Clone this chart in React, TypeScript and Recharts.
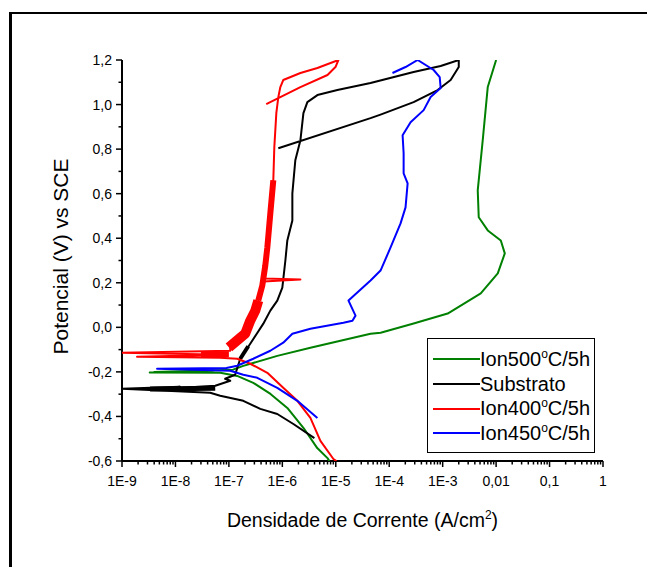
import React from 'react';
import { ScatterChart, Scatter, XAxis, YAxis, Legend } from 'recharts';

// ---- Series data (current density A/cm², potential V vs SCE), in sweep order ----
const ion500I = [7.6e-6, 7.0e-6, 4.5e-6, 2.5e-6, 1.24e-6, 6.0e-7, 2.86e-7, 1.43e-7, 6.9e-8, 3.3e-9, 5.0e-8, 4.0e-9, 1.2e-7, 1.86e-7, 8.05e-7, 3.35e-6, 4.47e-5, 6.9e-5, 2.86e-4, 1.24e-3, 5.16e-3, 1.074e-2, 1.454e-2, 1.224e-2, 6.98e-3, 4.73e-3, 4.53e-3, 5.62e-3, 6.98e-3, 1.0e-2];
const ion500E = [-0.6, -0.587, -0.542, -0.452, -0.362, -0.299, -0.249, -0.218, -0.204, -0.203, -0.198, -0.2, -0.19, -0.173, -0.128, -0.092, -0.029, -0.024, 0.017, 0.062, 0.152, 0.242, 0.332, 0.39, 0.435, 0.494, 0.615, 0.84, 1.079, 1.2];

const substratoI = [3.98e-6, 1.61e-6, 8.05e-7, 3.87e-7, 1.86e-7, 6.88e-8, 4.47e-8, 1e-9, 1.22e-8, 3.35e-9, 5.55e-8, 1.06e-7, 8.5e-8, 1.31e-7, 1.63e-7, 2.51e-7, 4.41e-7, 5.96e-7, 8.05e-7, 1.0e-6, 1.14e-6, 1.24e-6, 1.54e-6, 1.54e-6, 1.75e-6, 2.18e-6, 2.48e-6, 2.94e-6, 4.53e-6, 1.07e-5, 4.47e-5, 2.86e-4, 9.18e-4, 2.0e-3, 2.0e-3, 1.41e-3, 8.05e-4, 2.86e-4, 6.88e-5, 4.47e-5, 8.41e-7];
const substratoE = [-0.497, -0.434, -0.389, -0.366, -0.33, -0.307, -0.294, -0.276, -0.267, -0.2805, -0.2625, -0.24, -0.231, -0.213, -0.141, -0.0735, 0.0165, 0.075, 0.12, 0.1785, 0.3, 0.39, 0.48, 0.6015, 0.75, 0.84, 0.9615, 1.011, 1.0425, 1.065, 1.0965, 1.146, 1.173, 1.2, 1.1685, 1.11, 1.065, 1.011, 0.955, 0.939, 0.804];

const ion400I = [1.03e-5, 9.03e-6, 5.16e-6, 3.35e-6, 1.91e-6, 1.04e-6, 5.24e-7, 2.51e-7, 1.43e-7, 6.88e-8, 1.91e-9, 8.5e-8, 1e-9, 1.06e-7, 1.06e-7, 2.02e-7, 2.51e-7, 3.12e-7, 3.55e-7, 4.22e-7, 4.41e-7, 2.18e-6, 4.6e-7, 4.8e-7, 5.24e-7, 5.96e-7, 6.78e-7, 7.08e-7, 7.72e-7, 8.41e-7, 9.18e-7, 1.04e-6, 2.18e-6, 4.53e-6, 1.12e-5, 9.87e-6, 7.0e-6, 2.18e-6, 5.0e-7];
const ion400E = [-0.6, -0.591, -0.51, -0.4065, -0.33, -0.2715, -0.204, -0.1635, -0.141, -0.1365, -0.132, -0.123, -0.114, -0.105, -0.0825, -0.0285, 0.03, 0.075, 0.12, 0.1875, 0.2055, 0.2145, 0.219, 0.2775, 0.3585, 0.5115, 0.66, 0.8085, 0.9615, 1.0335, 1.0785, 1.11, 1.1415, 1.164, 1.2, 1.1685, 1.1325, 1.0785, 1.002];

const ion450I = [4.53e-6, 1.91e-6, 8.05e-7, 3.4e-7, 1.86e-7, 1.06e-7, 4.53e-9, 9e-8, 1.43e-7, 2.86e-7, 5.96e-7, 1.04e-6, 1.54e-6, 3.35e-6, 1.39e-5, 2.05e-5, 2.34e-5, 1.73e-5, 4.47e-5, 6.88e-5, 1.06e-4, 1.63e-4, 2.02e-4, 2.21e-4, 1.86e-4, 1.86e-4, 1.78e-4, 2.51e-4, 4.41e-4, 5.96e-4, 9.18e-4, 8.8e-4, 6.78e-4, 3.4e-4, 2.02e-4, 1.15e-4];
const ion450E = [-0.4065, -0.33, -0.2715, -0.2265, -0.213, -0.195, -0.186, -0.183, -0.1725, -0.141, -0.105, -0.069, -0.0285, -0.006, 0.021, 0.03, 0.0525, 0.12, 0.21, 0.255, 0.3585, 0.4665, 0.5385, 0.6465, 0.6915, 0.7815, 0.8625, 0.921, 0.975, 1.0335, 1.074, 1.1235, 1.155, 1.2, 1.1685, 1.1415];

// noisy (oscillating) stretches of the records, drawn as wider bands
const ion400BandLowI = [1.0e-7, 2.02e-7, 2.51e-7, 3.12e-7, 3.55e-7];
const ion400BandLowE = [-0.09, -0.0285, 0.03, 0.075, 0.12];
const ion400BandHighI = [3.55e-7, 4.22e-7, 4.8e-7, 5.24e-7, 5.96e-7, 6.78e-7];
const ion400BandHighE = [0.12, 0.1875, 0.2775, 0.3585, 0.5115, 0.66];
const ion400SpikeBandI = [3.0e-8, 1.0e-7];
const ion400SpikeBandE = [-0.121, -0.121];
const substratoBandI = [3.35e-9, 5.55e-8];
const substratoBandE = [-0.277, -0.274];
const substratoBand2I = [1.63e-7, 2.3e-7];
const substratoBand2E = [-0.141, -0.085];

// ---- Axis ticks / labels ----
const xMajorTicks = [1e-9, 1e-8, 1e-7, 1e-6, 1e-5, 1e-4, 1e-3, 1e-2, 1e-1, 1];
const xMajorLabels = ['1E-9', '1E-8', '1E-7', '1E-6', '1E-5', '1E-4', '1E-3', '0,01', '0,1', '1'];
const xMinorMultipliers = [2, 3, 4, 5, 6, 7, 8, 9];
const yMajorTicks = [-0.6, -0.4, -0.2, 0, 0.2, 0.4, 0.6, 0.8, 1.0, 1.2];
const yMajorLabels = ['-0,6', '-0,4', '-0,2', '0,0', '0,2', '0,4', '0,6', '0,8', '1,0', '1,2'];
const yMinorTicks = [-0.5, -0.3, -0.1, 0.1, 0.3, 0.5, 0.7, 0.9, 1.1];

const legendLabels = ['Ion500°C/5h', 'Substrato', 'Ion400°C/5h', 'Ion450°C/5h'];
const legendColors = ['#008000', '#000000', '#ff0000', '#0000ff'];

const xTitle = 'Densidade de Corrente (A/cm';
const yTitle = 'Potencial (V) vs SCE';

const FONT = '"Liberation Sans", Arial, Helvetica, sans-serif';
const TICK_SIZE = 6;
const TICK_MARGIN = 4;

const toPoints = (xs: number[], ys: number[]) => xs.map((i, k) => ({ i, E: ys[k] }));

const xMinorTicks: number[] = [];
xMajorTicks.slice(0, -1).forEach((d) => xMinorMultipliers.forEach((m) => xMinorTicks.push(m * d)));
const xTicks = [...xMajorTicks, ...xMinorTicks].sort((a, b) => a - b);
const yTicks = [...yMajorTicks, ...yMinorTicks].sort((a, b) => a - b);

const XTick = (props: any) => {
  const { x, y, payload } = props;
  const axisY = y - TICK_SIZE - TICK_MARGIN;
  const idx = xMajorTicks.findIndex((v) => Math.abs(Math.log10(v) - Math.log10(payload.value)) < 1e-6);
  const major = idx >= 0;
  return (
    <g>
      <line x1={x} x2={x} y1={axisY} y2={axisY + (major ? 6 : 3.5)} stroke="#000" strokeWidth={1.5} />
      {major && (
        <text x={x} y={axisY + 25} textAnchor="middle" fontSize={14} fontFamily={FONT} fill="#000">
          {xMajorLabels[idx]}
        </text>
      )}
    </g>
  );
};

const YTick = (props: any) => {
  const { x, y, payload } = props;
  const axisX = x + TICK_SIZE + TICK_MARGIN;
  const idx = yMajorTicks.findIndex((v) => Math.abs(v - payload.value) < 1e-6);
  const major = idx >= 0;
  return (
    <g>
      <line x1={axisX} x2={axisX - (major ? 6 : 3.5)} y1={y} y2={y} stroke="#000" strokeWidth={1.5} />
      {major && (
        <text x={axisX - 10} y={y + 5} textAnchor="end" fontSize={14} fontFamily={FONT} fill="#000">
          {yMajorLabels[idx]}
        </text>
      )}
    </g>
  );
};

const XTitle = (props: any) => {
  const vb = props.viewBox || { x: 122, y: 461, width: 481, height: 106 };
  return (
    <text x={vb.x + vb.width / 2} y={vb.y + 66} textAnchor="middle" fontSize={19.5} fontFamily={FONT} fill="#000">
      {xTitle}
      <tspan dy={-8} fontSize={12}>2</tspan>
      <tspan dy={8}>)</tspan>
    </text>
  );
};

const YTitle = (props: any) => {
  const vb = props.viewBox || { x: 0, y: 60, width: 122, height: 401 };
  const cx = 60;
  const cy = vb.y + vb.height / 2 - 4;
  return (
    <text
      x={cx}
      y={cy}
      transform={`rotate(-90, ${cx}, ${cy})`}
      textAnchor="middle"
      dominantBaseline="central"
      fontSize={21}
      fontFamily={FONT}
      fill="#000"
    >
      {yTitle}
    </text>
  );
};

const LegendBox = () => (
  <div
    style={{
      boxSizing: 'border-box',
      width: 168,
      height: 115,
      border: '1px solid #000',
      background: '#fff',
      fontFamily: FONT,
      fontSize: 20,
      paddingTop: 8,
      paddingLeft: 5,
      color: '#000',
    }}
  >
    {legendLabels.map((label, k) => {
      const parts = label.split('°');
      return (
        <div key={label} style={{ display: 'flex', alignItems: 'center', height: 24.7, whiteSpace: 'nowrap' }}>
          <svg width={47} height={4} style={{ display: 'block', flex: 'none' }}>
            <line x1={0} x2={47} y1={2} y2={2} stroke={legendColors[k]} strokeWidth={2} />
          </svg>
          <span>
            {parts[0]}
            {parts.length > 1 && (
              <>
                <sup style={{ fontSize: 12, verticalAlign: 'top', lineHeight: 1, position: 'relative', top: 0 }}>o</sup>
                {parts[1]}
              </>
            )}
          </span>
        </div>
      );
    })}
  </div>
);

const series = [
  { key: 'ion500', data: toPoints(ion500I, ion500E), color: legendColors[0], width: 2 },
  { key: 'substrato', data: toPoints(substratoI, substratoE), color: legendColors[1], width: 2 },
  { key: 'substratoBand', data: toPoints(substratoBandI, substratoBandE), color: legendColors[1], width: 5 },
  { key: 'substratoBand2', data: toPoints(substratoBand2I, substratoBand2E), color: legendColors[1], width: 4 },
  { key: 'ion400', data: toPoints(ion400I, ion400E), color: legendColors[2], width: 2 },
  { key: 'ion400BandLow', data: toPoints(ion400BandLowI, ion400BandLowE), color: legendColors[2], width: 10 },
  { key: 'ion400BandHigh', data: toPoints(ion400BandHighI, ion400BandHighE), color: legendColors[2], width: 6 },
  { key: 'ion400SpikeBand', data: toPoints(ion400SpikeBandI, ion400SpikeBandE), color: legendColors[2], width: 6 },
  { key: 'ion450', data: toPoints(ion450I, ion450E), color: legendColors[3], width: 2 },
];

const NoDot = () => <g />;

export default function App() {
  return (
    <div style={{ position: 'absolute', left: 0, top: 0, width: 647, height: 567, background: '#fff' }}>
      <div
        style={{
          position: 'absolute',
          left: 9,
          top: 12,
          width: 638,
          height: 555,
          boxSizing: 'border-box',
          borderLeft: '3px solid #000',
          borderTop: '2px solid #000',
        }}
      />
      <div style={{ position: 'absolute', left: 0, top: 0 }}>
        <ScatterChart width={647} height={567} margin={{ top: 60, right: 44, bottom: 0, left: 0 }}>
          <XAxis
            dataKey="i"
            type="number"
            scale="log"
            domain={[1e-9, 1]}
            allowDataOverflow
            ticks={xTicks}
            interval={0}
            height={106}
            tickSize={TICK_SIZE}
            tickMargin={TICK_MARGIN}
            tickLine={false}
            tick={<XTick />}
            axisLine={{ stroke: '#000', strokeWidth: 2 }}
            label={<XTitle />}
          />
          <YAxis
            dataKey="E"
            type="number"
            domain={[-0.6, 1.2]}
            allowDataOverflow
            ticks={yTicks}
            interval={0}
            width={122}
            tickSize={TICK_SIZE}
            tickMargin={TICK_MARGIN}
            tickLine={false}
            tick={<YTick />}
            axisLine={{ stroke: '#000', strokeWidth: 2 }}
            label={<YTitle />}
          />
          {series.map((s) => (
            <Scatter
              key={s.key}
              name={s.key}
              data={s.data}
              fill={s.color}
              line={{ stroke: s.color, strokeWidth: s.width, strokeLinejoin: 'round', strokeLinecap: 'butt' }}
              lineType="joint"
              shape={<NoDot />}
              isAnimationActive={false}
            />
          ))}
          <Legend
            layout="horizontal"
            verticalAlign="middle"
            align="center"
            wrapperStyle={{ position: 'absolute', left: 427, top: 338, width: 168, height: 115 }}
            content={() => <LegendBox />}
          />
        </ScatterChart>
      </div>
    </div>
  );
}
